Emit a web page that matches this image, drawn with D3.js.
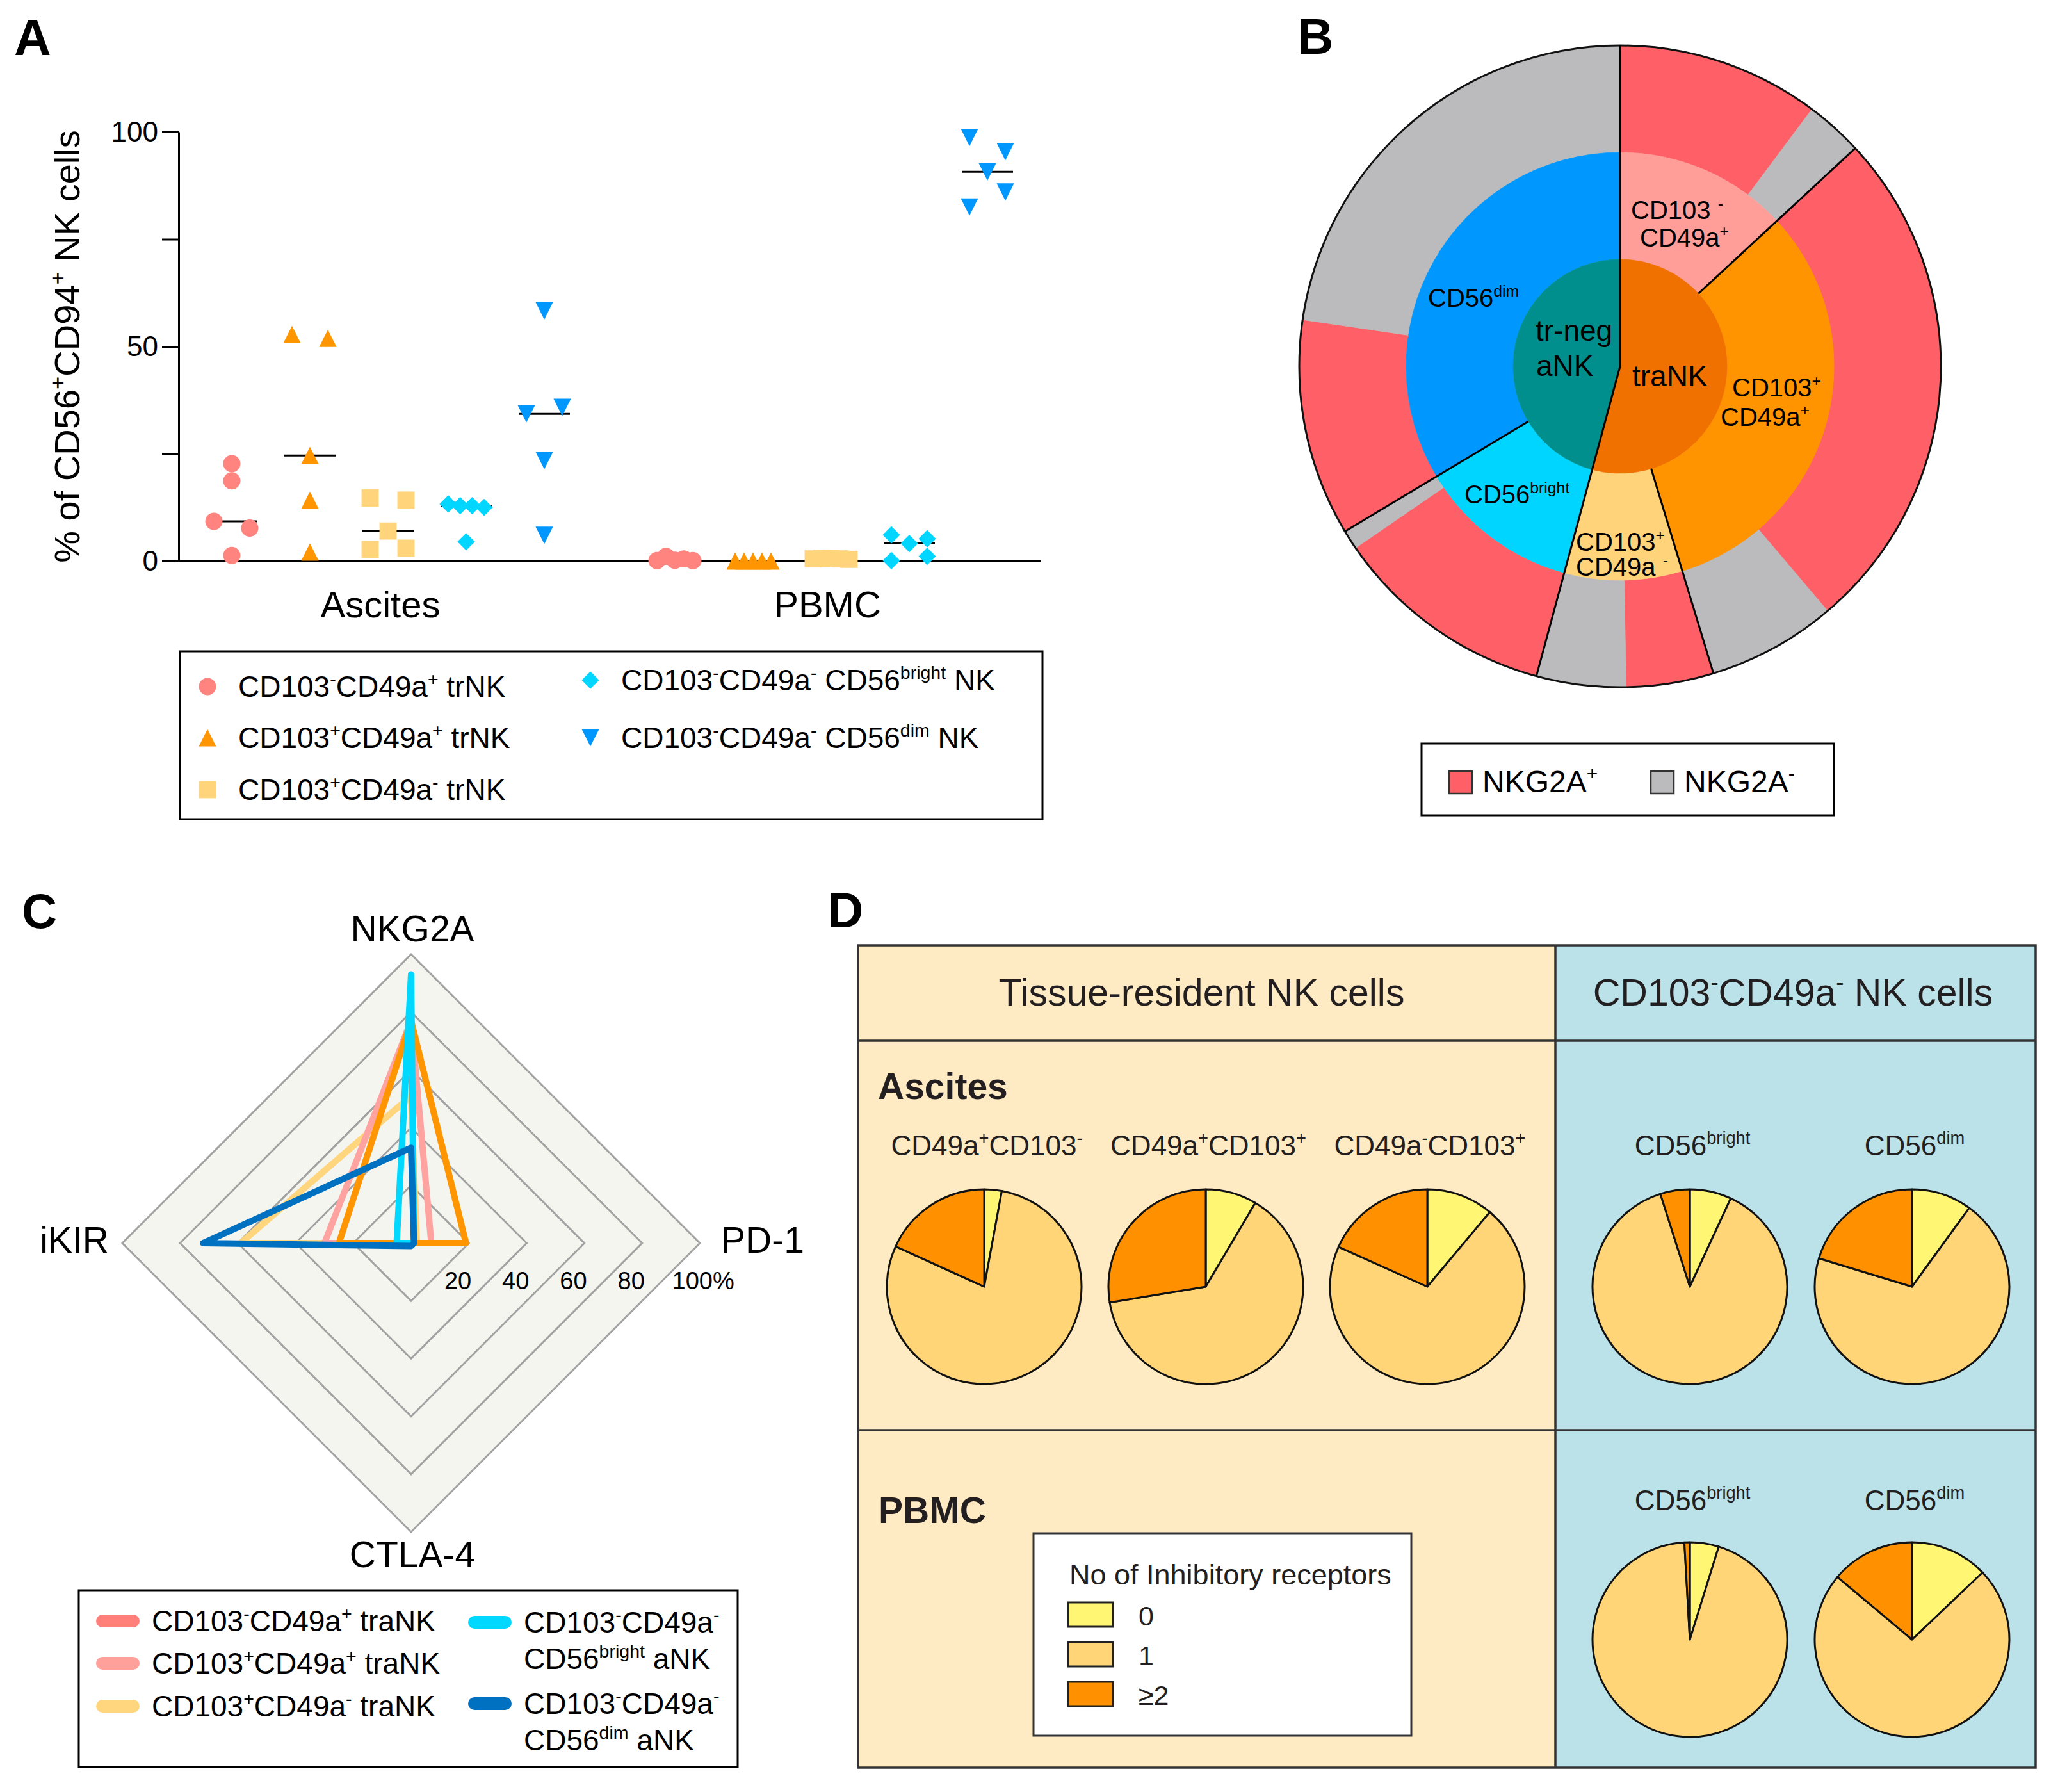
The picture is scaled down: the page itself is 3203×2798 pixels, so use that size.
<!DOCTYPE html>
<html>
<head>
<meta charset="utf-8">
<script src="https://cdn.jsdelivr.net/npm/d3@7"></script>
<style>
  body { margin: 0; background: #fff; }
  svg { display: block; font-family: 'Liberation Sans', Arial, sans-serif; }
</style>
</head>
<body>
<script>
/* Figure: NK cell subsets, NKG2A sunburst, inhibitory receptor radar and pies */

// ---- panel A data (% of CD56+CD94+ NK cells) ----
const tissues = ['Ascites', 'PBMC'];
const subsetKeys = ['ab', 'bb', 'ba', 'bright', 'dim'];
const subsetLabels = [
  'CD103{-}CD49a{+} trNK',
  'CD103{+}CD49a{+} trNK',
  'CD103{+}CD49a{-} trNK',
  'CD103{-}CD49a{-} CD56{bright} NK',
  'CD103{-}CD49a{-} CD56{dim} NK'
];
const subsetColors = ['#FF837E', '#FF9500', '#FFD47A', '#00D6FF', '#0098FF'];
const ascitesValues = [
  [22.7, 18.7, 9.25, 7.7, 1.3],
  [52.8, 51.9, 24.6, 14.2, 2.1],
  [14.7, 14.2, 7.0, 2.7, 3.0],
  [13.3, 12.9, 12.9, 12.5, 4.5],
  [58.3, 34.3, 35.8, 23.4, 6.0]
];
const pbmcValues = [
  [0.1, 1.1, 0.2, 0.5, 0.1],
  [0, 0, 0, 0, 0],
  [0.5, 0.6, 0.6, 0.5, 0.4],
  [6.1, 4.1, 5.2, 0.1, 1.1],
  [98.7, 95.4, 90.7, 82.5, 86.0]
];
const yTicks = [0, 25, 50, 75, 100];

// ---- panel B data (sunburst, % of all cells) ----
const innerNames = ['traNK', 'tr-neg aNK'];
const middleNames = ['CD103-CD49a+', 'CD103+CD49a+', 'CD103+CD49a-', 'CD56bright', 'CD56dim'];
const middleParent = ['traNK', 'traNK', 'traNK', 'tr-neg aNK', 'tr-neg aNK'];
const middleValues = [13.1, 32.2, 8.9, 12.2, 33.6];
const nkg2aPosShare = [77.9, 79.8, 49.4, 92.0, 32.5]; // % NKG2A+ within each subset
const innerColors = ['#F07000', '#008F8C'];
const middleColors = ['#FF9E99', '#FF9300', '#FFD37A', '#00D5FF', '#0098FF'];
const nkg2aColors = ['#FF5F66', '#BBBBBD'];

// ---- panel C data (radar, % positive) ----
const radarAxes = ['NKG2A', 'PD-1', 'CTLA-4', 'iKIR'];
const radarRings = [20, 40, 60, 80, 100];
const radarNames = [
  'CD103{+}CD49a{-} traNK',
  'CD103{-}CD49a{+} traNK',
  'CD103{+}CD49a{+} traNK',
  'CD103{-}CD49a{-} CD56{bright} aNK',
  'CD103{-}CD49a{-} CD56{dim} aNK'
];
const radarValues = [
  [51, 2, 0, 59],
  [77, 7, 0, 30],
  [77, 19, 0, 25],
  [93, 1, 0, 5],
  [33, 1, 1, 72]
];
const radarLineColors = ['#FFD57E', '#FFA3A0', '#FF9500', '#00D8FF', '#0070C0'];

// ---- panel D data (no. of inhibitory receptors: 0, 1, >=2) ----
const receptorCounts = ['0', '1', '≥2'];
const receptorColors = ['#FFF673', '#FFD578', '#FF9100'];
const ascitesPieLabels = ['CD49a{+}CD103{-}', 'CD49a{+}CD103{+}', 'CD49a{-}CD103{+}', 'CD56{bright}', 'CD56{dim}'];
const ascitesPies = [
  [2.9, 78.9, 18.2],
  [8.5, 63.9, 27.6],
  [11.1, 70.6, 18.3],
  [6.9, 88.2, 4.9],
  [10.0, 69.7, 20.3]
];
const pbmcPieLabels = ['CD56{bright}', 'CD56{dim}'];
const pbmcPies = [
  [4.8, 94.3, 0.9],
  [12.9, 73.2, 13.9]
];

const FONT = "'Liberation Sans', Arial, sans-serif";

// text with {superscript} parts
function rich(sel, str, fs) {
  const parts = str.split(/(\{[^}]*\})/).filter(s => s.length);
  let up = false;
  parts.forEach(p => {
    if (p[0] === '{') {
      sel.append('tspan').attr('font-size', fs * 0.62).attr('dy', up ? 0 : -fs * 0.4).text(p.slice(1, -1));
      up = true;
    } else {
      const t = sel.append('tspan').text(p);
      if (up) { t.attr('dy', fs * 0.4); up = false; }
    }
  });
  return sel;
}

function label(g, str, x, y, fs, opts) {
  opts = opts || {};
  const t = g.append('text')
    .attr('x', x).attr('y', y)
    .attr('font-size', fs)
    .attr('text-anchor', opts.anchor || 'start')
    .attr('font-weight', opts.weight || 'normal')
    .attr('fill', opts.fill || '#000');
  if (opts.rotate) t.attr('transform', `rotate(${opts.rotate},${x},${y})`);
  return rich(t, str, fs);
}

const svg = d3.select('body').append('svg')
  .attr('width', 3203).attr('height', 2798);
svg.append('rect').attr('width', 3203).attr('height', 2798).attr('fill', '#fff');

// panel letters
label(svg, 'A', 22, 86, 80, { weight: 'bold' });
label(svg, 'B', 2026, 84, 78, { weight: 'bold' });
label(svg, 'C', 34, 1449, 76, { weight: 'bold' });
label(svg, 'D', 1292, 1448, 78, { weight: 'bold' });

// ================= PANEL A =================
(function () {
  const g = svg.append('g');
  const y = d3.scaleLinear().domain([0, 100]).range([876, 206]);
  const xCat = d3.scalePoint().domain(tissues).range([606, 1298]);
  const xLab = d3.scalePoint().domain(tissues).range([594, 1292]);
  const xSub = d3.scalePoint().domain(subsetKeys).range([-244, 244]);

  const triUp = { draw(ctx, size) { const w = Math.sqrt(size); ctx.moveTo(0, -w / 2); ctx.lineTo(w / 2, w / 2); ctx.lineTo(-w / 2, w / 2); ctx.closePath(); } };
  const triDown = { draw(ctx, size) { const w = Math.sqrt(size); ctx.moveTo(-w / 2, -w / 2); ctx.lineTo(w / 2, -w / 2); ctx.lineTo(0, w / 2); ctx.closePath(); } };
  const shapes = [
    d3.symbol(d3.symbolCircle, 570),
    d3.symbol(triUp, 740),
    d3.symbol(d3.symbolSquare, 720),
    d3.symbol(d3.symbolSquare, 370),
    d3.symbol(triDown, 740)
  ];
  const rot = [0, 0, 0, 45, 0];

  // spread points that sit at nearly the same height
  function spread(vals) {
    const idx = d3.range(vals.length).sort((a, b) => vals[b] - vals[a]);
    const offs = vals.map(() => 0);
    let i = 0;
    while (i < idx.length) {
      const top = y(vals[idx[i]]);
      let j = i + 1;
      while (j < idx.length && y(vals[idx[j]]) - top < 25) j++;
      const members = idx.slice(i, j).sort((a, b) => a - b);
      const n = members.length;
      members.forEach((m, k) => { offs[m] = n === 1 ? 0 : -28 + 56 * k / (n - 1); });
      i = j;
    }
    return offs;
  }

  // axes
  const yAxis = g.append('g').attr('transform', 'translate(279,0)')
    .call(d3.axisLeft(y).tickValues(yTicks).tickSize(26).tickSizeOuter(0).tickPadding(6)
      .tickFormat(d => d % 50 === 0 ? d : ''));
  yAxis.selectAll('path, line').attr('stroke', '#000').attr('stroke-width', 3);
  yAxis.selectAll('text').attr('font-size', 44).attr('font-family', FONT).attr('fill', '#000');

  g.append('line')
    .attr('x1', 279).attr('x2', 1626).attr('y1', y(0)).attr('y2', y(0))
    .attr('stroke', '#000').attr('stroke-width', 3);

  tissues.forEach(t => label(g, t, xLab(t), 964, 58, { anchor: 'middle' }));
  label(g, '% of CD56{+}CD94{+} NK cells', 124, 541, 56, { anchor: 'middle', rotate: -90 });

  [ascitesValues, pbmcValues].forEach((groups, ti) => {
    const cx = xCat(tissues[ti]);
    groups.forEach((vals, si) => {
      const gx = cx + xSub(subsetKeys[si]);
      const med = d3.median(vals);
      g.append('line')
        .attr('x1', gx - 40).attr('x2', gx + 40)
        .attr('y1', y(med)).attr('y2', y(med))
        .attr('stroke', '#000').attr('stroke-width', 3);
      const offs = spread(vals);
      g.selectAll(null).data(vals).enter().append('path')
        .attr('d', shapes[si])
        .attr('transform', (d, i) => `translate(${gx + offs[i]},${y(d)}) rotate(${rot[si]})`)
        .attr('fill', subsetColors[si]);
    });
  });

  // legend
  g.append('rect').attr('x', 281).attr('y', 1017).attr('width', 1347).attr('height', 262)
    .attr('fill', 'none').attr('stroke', '#000').attr('stroke-width', 3);
  const legPos = [[324, 1072], [324, 1152], [324, 1233], [922, 1062], [922, 1152]];
  subsetLabels.forEach((s, i) => {
    const [lx, ly] = legPos[i];
    g.append('path').attr('d', shapes[i])
      .attr('transform', `translate(${lx},${ly}) rotate(${rot[i]})`)
      .attr('fill', subsetColors[i]);
    label(g, s, lx + 48, ly + 16, 46);
  });
})();

// ================= PANEL B =================
(function () {
  const cx = 2530, cy = 572;
  const r1 = 167, r2 = 334, r3 = 501;
  const g = svg.append('g').attr('transform', `translate(${cx},${cy})`);
  const pie = d3.pie().sort(null).value(d => d);

  const innerValues = innerNames.map(n => d3.sum(middleValues.filter((v, i) => middleParent[i] === n)));
  const innerArcs = pie(innerValues);
  const middleArcs = pie(middleValues);
  const outerValues = [];
  middleValues.forEach((v, i) => {
    outerValues.push(v * nkg2aPosShare[i] / 100, v * (100 - nkg2aPosShare[i]) / 100);
  });
  const outerArcs = pie(outerValues);

  g.selectAll('.outer').data(outerArcs).enter().append('path')
    .attr('d', d3.arc().innerRadius(r2).outerRadius(r3))
    .attr('fill', (d, i) => nkg2aColors[i % 2])
    .attr('stroke', (d, i) => nkg2aColors[i % 2]).attr('stroke-width', 0.8);
  g.selectAll('.mid').data(middleArcs).enter().append('path')
    .attr('d', d3.arc().innerRadius(r1).outerRadius(r2))
    .attr('fill', (d, i) => middleColors[i])
    .attr('stroke', (d, i) => middleColors[i]).attr('stroke-width', 0.8);
  g.selectAll('.inner').data(innerArcs).enter().append('path')
    .attr('d', d3.arc().innerRadius(0).outerRadius(r1))
    .attr('fill', (d, i) => innerColors[i])
    .attr('stroke', (d, i) => innerColors[i]).attr('stroke-width', 0.8);

  g.append('circle').attr('r', r3).attr('fill', 'none').attr('stroke', '#111').attr('stroke-width', 3);

  const ray = (a, ra, rb) => g.append('line')
    .attr('x1', ra * Math.sin(a)).attr('y1', -ra * Math.cos(a))
    .attr('x2', rb * Math.sin(a)).attr('y2', -rb * Math.cos(a))
    .attr('stroke', '#000').attr('stroke-width', 3);
  innerArcs.forEach(d => ray(d.startAngle, 0, r3));
  middleArcs.forEach(d => {
    if (!innerArcs.some(a => Math.abs(a.startAngle - d.startAngle) < 1e-6)) ray(d.startAngle, r1, r3);
  });

  const L = (s, x, yy, fs) => label(svg, s, x, yy, fs);
  L('CD103 {-}', 2547, 342, 40);
  L('CD49a{+}', 2561, 385, 40);
  L('tr-neg', 2398, 532, 46);
  L('aNK', 2399, 587, 46);
  L('traNK', 2549, 603, 46);
  L('CD103{+}', 2705, 619, 40);
  L('CD49a{+}', 2687, 665, 40);
  L('CD56{dim}', 2230, 479, 40);
  L('CD56{bright}', 2287, 786, 40);
  L('CD103{+}', 2461, 860, 40);
  L('CD49a {-}', 2461, 899, 40);

  // legend
  svg.append('rect').attr('x', 2220).attr('y', 1161).attr('width', 644).attr('height', 112)
    .attr('fill', 'none').attr('stroke', '#000').attr('stroke-width', 3);
  ['NKG2A{+}', 'NKG2A{-}'].forEach((s, i) => {
    const lx = i === 0 ? 2263 : 2578;
    svg.append('rect').attr('x', lx).attr('y', 1204).attr('width', 36).attr('height', 35)
      .attr('fill', nkg2aColors[i]).attr('stroke', '#333').attr('stroke-width', 2.5);
    label(svg, s, lx + 52, 1237, 48);
  });
})();

// ================= PANEL C =================
(function () {
  const cx = 642, cy = 1941;
  const g = svg.append('g').attr('transform', `translate(${cx},${cy})`);
  const r = d3.scaleLinear().domain([0, 100]).range([0, 451]);
  const radial = d3.lineRadial()
    .angle((d, i) => i * Math.PI / 2)
    .radius(d => r(d))
    .curve(d3.curveLinearClosed);

  g.append('path').attr('d', radial(radarAxes.map(() => 100)))
    .attr('fill', '#F5F5F0');
  radarRings.forEach(v => {
    g.append('path').attr('d', radial(radarAxes.map(() => v)))
      .attr('fill', 'none').attr('stroke', '#A2A2A2').attr('stroke-width', 3);
    g.append('text').attr('x', r(v) + (v === 100 ? 20 : 4)).attr('y', 72)
      .attr('text-anchor', 'end').attr('font-size', 38).text(v);
  });
  g.append('text').attr('x', r(100) + 20).attr('y', 72).attr('font-size', 38).text('%');

  radarValues.forEach((vals, i) => {
    g.append('path').attr('d', radial(vals))
      .attr('fill', 'none').attr('stroke', radarLineColors[i])
      .attr('stroke-width', 10).attr('stroke-linejoin', 'round');
  });

  label(svg, 'NKG2A', 644, 1470, 57, { anchor: 'middle' });
  label(svg, 'PD-1', 1126, 1956, 57);
  label(svg, 'iKIR', 170, 1956, 57, { anchor: 'end' });
  label(svg, 'CTLA-4', 644, 2447, 57, { anchor: 'middle' });

  // legend
  const legendColors = ['#FF7F7A', '#FFA09A', '#FFD57E', '#00D8FF', '#0070C0'];
  const legendText = [
    ['CD103{-}CD49a{+} traNK'], ['CD103{+}CD49a{+} traNK'], ['CD103{+}CD49a{-} traNK'],
    ['CD103{-}CD49a{-}', 'CD56{bright} aNK'], ['CD103{-}CD49a{-}', 'CD56{dim} aNK']
  ];
  const legPos = [[150, 2531], [150, 2597], [150, 2664], [731, 2533], [731, 2660]];
  svg.append('rect').attr('x', 123).attr('y', 2483).attr('width', 1029).attr('height', 276)
    .attr('fill', 'none').attr('stroke', '#000').attr('stroke-width', 3);
  legendText.forEach((lines, i) => {
    const [lx, ly] = legPos[i];
    svg.append('line').attr('x1', lx + 10).attr('x2', lx + 58).attr('y1', ly).attr('y2', ly)
      .attr('stroke', legendColors[i]).attr('stroke-width', 20).attr('stroke-linecap', 'round');
    lines.forEach((s, k) => label(svg, s, lx + 87, ly + 16 + k * 57, 46));
  });
})();

// ================= PANEL D =================
(function () {
  const g = svg.append('g');
  const x0 = 1340, x1 = 2429, x2 = 3179, yTop = 1476, yHead = 1625, yRow = 2233, yBot = 2760;
  const txt = '#231F20';
  g.append('rect').attr('x', x0).attr('y', yTop).attr('width', x1 - x0).attr('height', yBot - yTop).attr('fill', '#FFEBC3');
  g.append('rect').attr('x', x1).attr('y', yTop).attr('width', x2 - x1).attr('height', yBot - yTop).attr('fill', '#BCE2E9');
  g.append('rect').attr('x', x0).attr('y', yTop).attr('width', x2 - x0).attr('height', yBot - yTop)
    .attr('fill', 'none').attr('stroke', '#333').attr('stroke-width', 3.5);
  [yHead, yRow].forEach(yy => g.append('line').attr('x1', x0).attr('x2', x2).attr('y1', yy).attr('y2', yy)
    .attr('stroke', '#333').attr('stroke-width', 3.5));
  g.append('line').attr('x1', x1).attr('x2', x1).attr('y1', yTop).attr('y2', yBot)
    .attr('stroke', '#333').attr('stroke-width', 3.5);

  label(g, 'Tissue-resident NK cells', (x0 + x1) / 2 - 8, 1570, 59, { anchor: 'middle', fill: txt });
  label(g, 'CD103{-}CD49a{-} NK cells', (x1 + x2) / 2 - 4, 1570, 59, { anchor: 'middle', fill: txt });
  label(g, 'Ascites', 1371, 1716, 57, { weight: 'bold', fill: txt });
  label(g, 'PBMC', 1372, 2378, 57, { weight: 'bold', fill: txt });

  const pie = d3.pie().sort(null).value(d => d);
  const arc = d3.arc().innerRadius(0).outerRadius(152);
  const ascX = d3.scalePoint().domain(d3.range(3)).range([1537, 2229]);
  const cdX = d3.scalePoint().domain(d3.range(2)).range([2639, 2986]);
  const pieX = i => i < 3 ? ascX(i) : cdX(i - 3);

  function drawPie(vals, px, py) {
    g.append('g').attr('transform', `translate(${px},${py})`)
      .selectAll('path').data(pie(vals)).enter().append('path')
      .attr('d', arc).attr('fill', (d, i) => receptorColors[i])
      .attr('stroke', '#111').attr('stroke-width', 3).attr('stroke-linejoin', 'round');
  }
  ascitesPies.forEach((vals, i) => {
    drawPie(vals, pieX(i), 2009);
    label(g, ascitesPieLabels[i], pieX(i) + 4, 1804, 44, { anchor: 'middle', fill: txt });
  });
  pbmcPies.forEach((vals, i) => {
    drawPie(vals, cdX(i), 2560);
    label(g, pbmcPieLabels[i], cdX(i) + 4, 2358, 44, { anchor: 'middle', fill: txt });
  });

  // legend
  g.append('rect').attr('x', 1614).attr('y', 2394).attr('width', 590).attr('height', 316)
    .attr('fill', '#fff').attr('stroke', '#333').attr('stroke-width', 3);
  label(g, 'No of Inhibitory receptors', 1670, 2474, 45, { fill: txt });
  receptorCounts.forEach((c, i) => {
    const ly = 2502 + i * 62;
    g.append('rect').attr('x', 1668).attr('y', ly).attr('width', 70).attr('height', 38)
      .attr('fill', receptorColors[i]).attr('stroke', '#222').attr('stroke-width', 3);
    label(g, c, 1778, ly + 36, 43, { fill: txt });
  });
})();
</script>
</body>
</html>
